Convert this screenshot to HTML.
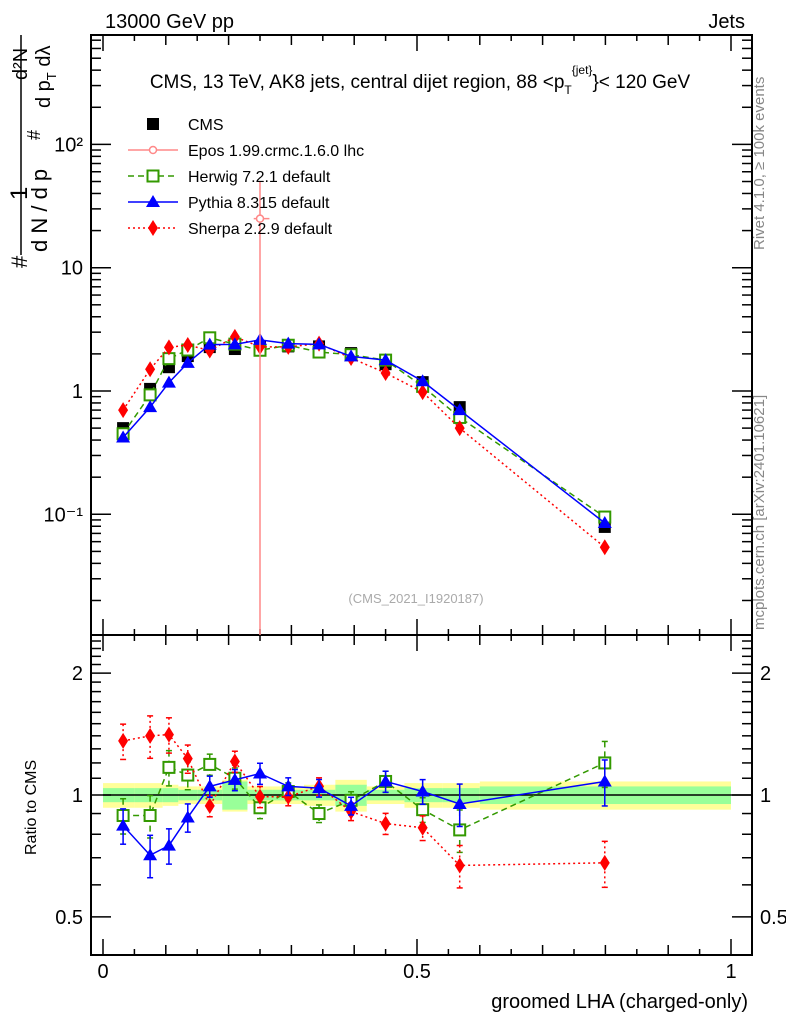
<!DOCTYPE html>
<html><head><meta charset="utf-8"><style>body{margin:0;background:#fff}svg text{font-family:"Liberation Sans",sans-serif}</style></head>
<body>
<svg id="c" width="786" height="1024" xmlns="http://www.w3.org/2000/svg">
<text x="105" y="28" font-size="20">13000 GeV pp</text>
<text x="745" y="28" font-size="20" text-anchor="end">Jets</text>
<text x="420" y="88" font-size="19" text-anchor="middle">CMS, 13 TeV, AK8 jets, central dijet region, 88 &lt;p<tspan font-size="12" dy="6">T</tspan><tspan font-size="12" dy="-20">{jet}</tspan><tspan dy="14">}&lt; 120 GeV</tspan></text>
<text transform="translate(764,250) rotate(-90)" font-size="15" fill="#888">Rivet 4.1.0, ≥ 100k events</text>
<text transform="translate(764,630) rotate(-90)" font-size="15" fill="#888">mcplots.cern.ch [arXiv:2401.10621]</text>
<text x="416" y="603" font-size="13" fill="#aaa" text-anchor="middle">(CMS_2021_I1920187)</text>
<g font-size="20">
<line x1="21" x2="21" y1="35" y2="255" stroke="#000" stroke-width="1.5"/>
<text transform="translate(27,268) rotate(-90)" font-size="22">#</text>
<text transform="translate(27,200) rotate(-90)" font-size="24">1</text>
<text transform="translate(27,80) rotate(-90)" font-size="20">d²N</text>
<text transform="translate(47,252) rotate(-90)" font-size="22">d N / d p</text>
<text transform="translate(40,140) rotate(-90)" font-size="18">#</text>
<text transform="translate(50,108) rotate(-90)" font-size="20">d p<tspan font-size="13" dy="6">T</tspan><tspan dy="-6"> d</tspan>λ</text>
</g>
<text transform="translate(36,855) rotate(-90)" font-size="16">Ratio to CMS</text>
<text x="748" y="1008" font-size="20" text-anchor="end">groomed LHA (charged-only)</text>
<g id="g"></g>
</svg>
<script>
const xs=[0.032,0.075,0.105,0.135,0.170,0.210,0.250,0.295,0.344,0.395,0.450,0.509,0.568,0.799];
const binEdges=[0,0.05,0.095,0.12,0.15,0.19,0.23,0.27,0.32,0.37,0.42,0.48,0.54,0.6,1.0];
const cms=[0.50,1.04,1.56,1.92,2.27,2.19,2.3,2.3,2.3,2.03,1.65,1.18,0.74,0.079];
const herwig=[0.45,0.93,1.83,2.15,2.7,2.4,2.14,2.35,2.07,1.97,1.78,1.09,0.61,0.095];
const pythia=[0.42,0.74,1.17,1.69,2.38,2.39,2.6,2.42,2.39,1.91,1.78,1.2,0.70,0.085];
const sherpa=[0.70,1.5,2.26,2.36,2.13,2.75,2.28,2.28,2.42,1.85,1.4,0.98,0.50,0.054];
const herwigR=[0.89,0.89,1.17,1.12,1.19,1.1,0.93,1.02,0.9,0.97,1.08,0.92,0.82,1.2];
const pythiaR=[0.84,0.71,0.75,0.88,1.05,1.09,1.13,1.05,1.04,0.94,1.08,1.02,0.95,1.08];
const sherpaR=[1.36,1.4,1.41,1.23,0.94,1.21,0.99,0.99,1.05,0.91,0.85,0.83,0.67,0.68];
const errR=[0.1,0.12,0.1,0.08,0.06,0.06,0.06,0.05,0.05,0.05,0.06,0.07,0.12,0.13];
const statBand=[0.04,0.04,0.04,0.03,0.03,0.08,0.03,0.03,0.03,0.06,0.03,0.04,0.04,0.05];
const sysBand=[0.07,0.07,0.06,0.05,0.05,0.09,0.05,0.05,0.06,0.09,0.05,0.07,0.07,0.08];
const eposX=[0.25], epos=[25];
const yTicks=[[1,'1'],[10,'10'],[100,'10²'],[0.1,'10⁻¹']];
const rTicks=[0.5,1,2];

const NS='http://www.w3.org/2000/svg',G=document.getElementById('g');
const X=v=>103+628*v;
const Y=v=>391-123.3*Math.log10(v);
const R=v=>795-405*Math.log10(v);
function el(t,a,p){const e=document.createElementNS(NS,t);for(const k in a)e.setAttribute(k,a[k]);(p||G).appendChild(e);return e;}
const L=91,Rt=752,T=35,M=635,B=955;
binEdges.slice(0,-1).forEach((e0,i)=>{
 const b=el('rect',{x:X(e0),y:R(1+sysBand[i]),width:X(binEdges[i+1])-X(e0),height:R(1-sysBand[i])-R(1+sysBand[i]),fill:'#ffff99'});
 
 
 const s=el('rect',{x:X(e0),y:R(1+statBand[i]),width:X(binEdges[i+1])-X(e0),height:R(1-statBand[i])-R(1+statBand[i]),fill:'#99ff99'});
 
 
});
el('line',{x1:X(0),x2:Rt,y1:R(1),y2:R(1),stroke:'#000','stroke-width':1.5});
[[T,M],[M,B]].forEach(([a,b])=>{const f=el('rect',{x:L,y:a,width:Rt-L,height:b-a,fill:'none',stroke:'#000','stroke-width':2});
 
 });
for(let k=0;k<=20;k++){const v=k*0.05,x=X(v),len=k%10==0?16:(k%2==0?10:6);
 [M,B].forEach(b=>{el('line',{x1:x,x2:x,y1:b,y2:b-len,stroke:'#000','stroke-width':1.5});el('line',{x1:x,x2:x,y1:b==M?T:M,y2:(b==M?T:M)+len,stroke:'#000','stroke-width':1.5});});
 if(k%10==0){const t=el('text',{x:x,y:978,'font-size':20,'text-anchor':'middle'});t.textContent=k==0?'0':k==10?'0.5':'1';
 
 }}
for(let d=-2;d<=2;d++)for(let m=1;m<10;m++){const v=m*Math.pow(10,d),y=Y(v);if(y<T||y>M)continue;const len=m==1?20:10;
 el('line',{x1:L,x2:L+len,y1:y,y2:y,stroke:'#000','stroke-width':1.5});el('line',{x1:Rt,x2:Rt-len,y1:y,y2:y,stroke:'#000','stroke-width':1.5});}
yTicks.forEach(([v,s])=>{const t=el('text',{x:83,y:Y(v)+7,'font-size':20,'text-anchor':'end'});t.textContent=s;
 
 });
for(let v=0.4;v<2.5;v+=0.1){const vv=Math.round(v*10)/10,y=R(vv);if(y<M||y>B)continue;const len=[0.5,1,2].includes(vv)?20:10;
 el('line',{x1:L,x2:L+len,y1:y,y2:y,stroke:'#000','stroke-width':1.5});el('line',{x1:Rt,x2:Rt-len,y1:y,y2:y,stroke:'#000','stroke-width':1.5});}
rTicks.forEach(v=>{[[83,'end'],[760,'start']].forEach(([x,a])=>{const t=el('text',{x:x,y:R(v)+7,'font-size':20,'text-anchor':a});t.textContent=String(v);
 
 });});
function mk(type,x,y,c,p){
 if(type=='sq')el('rect',{x:x-6,y:y-6,width:12,height:12,fill:c},p);
 if(type=='osq')el('rect',{x:x-5.5,y:y-5.5,width:11,height:11,fill:'#fff',stroke:c,'stroke-width':2},p);
 if(type=='tri')el('polygon',{points:`${x},${y-7} ${x-7},${y+5} ${x+7},${y+5}`,fill:c},p);
 if(type=='dia')el('polygon',{points:`${x},${y-8} ${x-5},${y} ${x},${y+8} ${x+5},${y}`,fill:c},p);
}
function series(name,vals,rvals,c,dash,type,lw){
 const g=el('g',{});
 
 
 const clip=(y,a,b)=>Math.max(a,Math.min(b,y));
 el('polyline',{points:xs.map((x,i)=>X(x)+','+Y(vals[i])).join(' '),fill:'none',stroke:c,'stroke-width':lw,'stroke-dasharray':dash},g);
 el('polyline',{points:xs.map((x,i)=>X(x)+','+clip(R(rvals[i]),M,B)).join(' '),fill:'none',stroke:c,'stroke-width':lw,'stroke-dasharray':dash},g);
 xs.forEach((x,i)=>{const px=X(x),e=errR[i];
  const y1=Y(vals[i]*(1+e*0.6)),y2=Y(vals[i]*(1-e*0.6));
  el('line',{x1:px,x2:px,y1:y1,y2:y2,stroke:c,'stroke-width':1.5,'stroke-dasharray':dash},g);
  el('line',{x1:px,x2:px,y1:R(rvals[i]*(1+e)),y2:R(rvals[i]*(1-e)),stroke:c,'stroke-width':1.5,'stroke-dasharray':dash},g);
  [R(rvals[i]*(1+e)),R(rvals[i]*(1-e))].forEach(y=>el('line',{x1:px-3,x2:px+3,y1:y,y2:y,stroke:c,'stroke-width':1.5},g));
  mk(type,px,Y(vals[i]),c,g);mk(type,px,R(rvals[i]),c,g);});
}
const cg=el('g',{});


xs.forEach((x,i)=>mk('sq',X(x),Y(cms[i]),'#000',cg));
series('herwig',herwig,herwigR,'#339900','6,4','osq',1.5);
series('sherpa',sherpa,sherpaR,'#ff0000','2,3','dia',1.5);
series('pythia',pythia,pythiaR,'#0000ff','','tri',1.5);
const eg=el('g',{});


eposX.forEach((x,i)=>{const px=X(x),py=Y(epos[i]);
 el('line',{x1:px,x2:px,y1:Y(50),y2:M,stroke:'#f88','stroke-width':1.5},eg);
 el('line',{x1:X(0.24),x2:X(0.265),y1:py,y2:py,stroke:'#f88','stroke-width':1.5},eg);
 el('circle',{cx:px,cy:py,r:3.5,fill:'#fff',stroke:'#f88','stroke-width':1.5},eg);});
const leg=[['CMS','#000','','sq'],['Epos 1.99.crmc.1.6.0 lhc','#f88','','ep'],['Herwig 7.2.1 default','#339900','6,4','osq'],['Pythia 8.315 default','#0000ff','','tri'],['Sherpa 2.2.9 default','#ff0000','2,3','dia']];
leg.forEach(([s,c,d,t],i)=>{const y=124+i*26,lg=el('g',{});
 
 
 if(t!='sq')el('line',{x1:128,x2:178,y1:y,y2:y,stroke:c,'stroke-width':1.5,'stroke-dasharray':d},lg);
 if(t=='ep')el('circle',{cx:153,cy:y,r:3.5,fill:'#fff',stroke:c,'stroke-width':1.5},lg);else mk(t,153,y,c,lg);
 const tx=el('text',{x:188,y:y+6,'font-size':16},lg);tx.textContent=s;});
</script>
</body></html>
